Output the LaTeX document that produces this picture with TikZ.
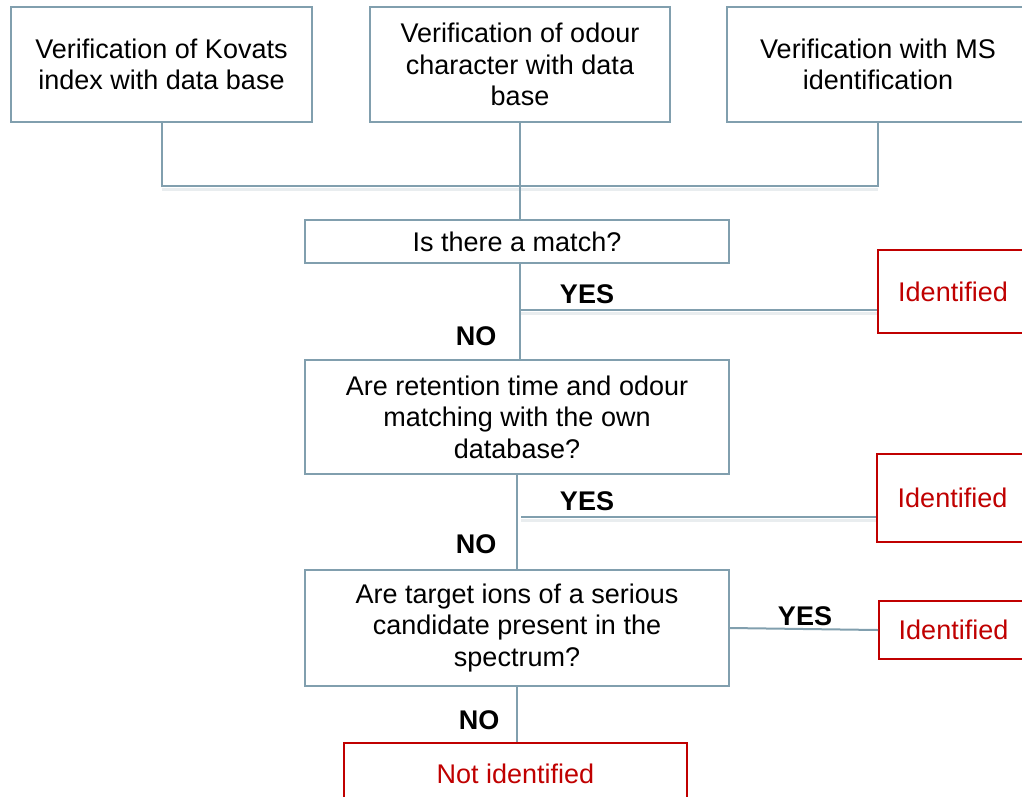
\documentclass[tikz,border=0pt]{standalone}
\usepackage{fontspec}
\setmainfont{Liberation Sans}
\definecolor{boxc}{HTML}{819FAE}
\definecolor{redc}{HTML}{C00000}
\definecolor{shadc}{HTML}{E9EDEF}
\begin{document}
\begin{tikzpicture}[x=1pt,y=-1pt,
  txt/.style={font=\fontsize{27}{31.5}\selectfont},
  box/.style={txt,draw=boxc,line width=2pt,inner sep=0pt,align=center,fill=white},
  redbox/.style={txt,draw=redc,line width=2pt,inner sep=0pt,align=center,text=redc,fill=white},
  lbl/.style={font=\fontsize{27}{31.5}\selectfont\bfseries,inner sep=0pt},
  conn/.style={draw=boxc,line width=2pt},
  shad/.style={draw=shadc,line width=3pt}]
\useasboundingbox (0,0) rectangle (1022,796);
\clip (0,0) rectangle (1022,796);
% nodes
\node[box,minimum width=301,minimum height=115] (A) at (161.5,64.5) {Verification of Kovats\\index with data base};
\node[box,minimum width=300,minimum height=115] (B) at (520,64.5) {Verification of odour\\character with data\\base};
\node[box,minimum width=302,minimum height=115] (C) at (878,64.5) {Verification with MS\\identification};
\coordinate (bar) at (520,186);
% shadows of horizontal lines
\draw[shad] ([yshift=-3pt]A.south |- bar) -- ([yshift=-3pt]C.south |- bar);
\draw[conn] (A.south) -- (A.south |- bar) -- (C.south |- bar) -- (C.south);
\node[box,minimum width=424,minimum height=43] (M) at (517,241.5) {Is there a match?};
\draw[conn] (B.south) -- (B.south |- M.north);
\node[box,minimum width=424,minimum height=114] (R) at (517,417) {Are retention time and odour\\matching with the own\\database?};
\node[box,minimum width=424,minimum height=116] (T) at (517,628) {Are target ions of a serious\\candidate present in the\\spectrum?};
\node[redbox,minimum width=150,minimum height=83] (I1) at (953,291.5) {Identified};
\node[redbox,minimum width=151,minimum height=88] (I2) at (952.5,498) {Identified};
\node[redbox,minimum width=149,minimum height=58] (I3) at (953.5,630) {Identified};
\node[redbox,minimum width=343,minimum height=62] (N) at (515.5,774) {Not identified};
% connectors
\coordinate (y1) at (521,310);
\coordinate (y2) at (521,517);
\draw[shad] ([yshift=-3pt]y1) -- ([yshift=-3pt]y1 -| I1.west);
\draw[shad] ([yshift=-3pt]y2) -- ([yshift=-3pt]y2 -| I2.west);
\draw[conn] ([xshift=3pt]M.south) -- ([xshift=3pt]M.south |- R.north);
\draw[conn] (y1) -- (y1 -| I1.west);
\draw[conn] (R.south) -- (T.north);
\draw[conn] (y2) -- (y2 -| I2.west);
\draw[conn] (T.east) -- (I3.west);
\draw[conn] (T.south) -- (T.south |- N.north);
% labels
\node[lbl] (yes1) at (587,294) {YES};
\node[lbl] (no1) at (476,336) {NO};
\node[lbl] (yes2) at (587,501) {YES};
\node[lbl] (no2) at (476,544) {NO};
\node[lbl] (yes3) at (805,616) {YES};
\node[lbl] (no3) at (479,720) {NO};
\end{tikzpicture}
\end{document}
